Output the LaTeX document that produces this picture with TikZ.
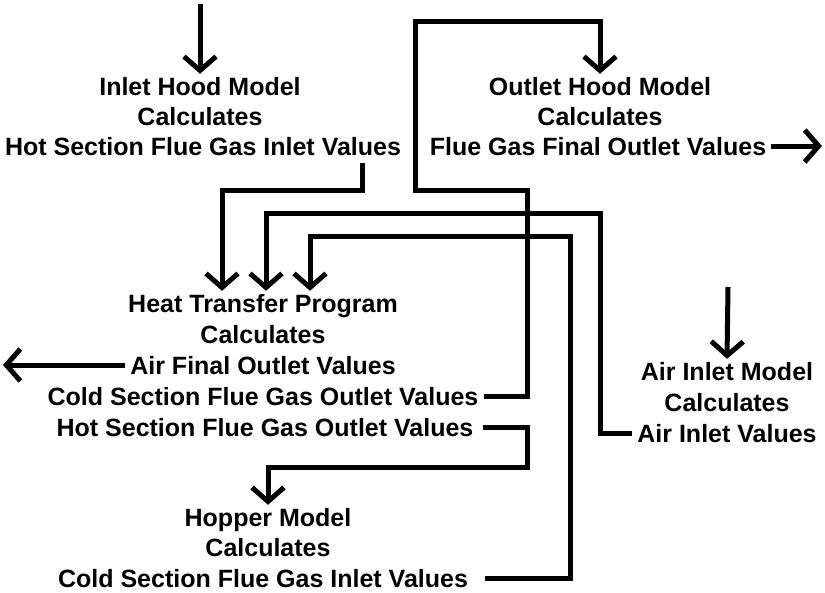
\documentclass[tikz,border=0pt]{standalone}
\usepackage{fontspec}
\setmainfont{Liberation Sans}
\usetikzlibrary{arrows.meta}
\begin{document}
\begin{tikzpicture}[x=1pt,y=-1pt,
  lbl/.style={inner xsep=5pt,inner ysep=3pt,text height=18pt,text depth=0pt,anchor=base,
    font=\bfseries\fontsize{25}{30}\selectfont},
  wire/.style={line width=5pt,line join=miter,line cap=butt},
  arr/.style={-{Straight Barb[length=14pt,width=32pt]}}]
\fill[white] (0,0) rectangle (825,592);
\useasboundingbox (0,0) rectangle (825,592);
% Inlet hood model
\node[lbl] (inlet1) at (200,95) {Inlet Hood Model};
\node[lbl] (inlet2) at (200,125) {Calculates};
\node[lbl] (inlet3) at (203,155) {Hot Section Flue Gas Inlet Values};
% Outlet hood model
\node[lbl] (outlet1) at (600,95) {Outlet Hood Model};
\node[lbl] (outlet2) at (600,125) {Calculates};
\node[lbl] (fgOut) at (598,155) {Flue Gas Final Outlet Values};
% Heat transfer program
\node[lbl] (ht1) at (263,312) {Heat Transfer Program};
\node[lbl] (ht2) at (263,343) {Calculates};
\node[lbl] (airOut) at (263,374) {Air Final Outlet Values};
\node[lbl] (coldOut) at (263,405) {Cold Section Flue Gas Outlet Values};
\node[lbl] (hotOut) at (265,436) {Hot Section Flue Gas Outlet Values};
% Air inlet model
\node[lbl] (air1) at (727,380) {Air Inlet Model};
\node[lbl] (air2) at (727,411) {Calculates};
\node[lbl] (airv) at (727,442) {Air Inlet Values};
% Hopper model
\node[lbl] (hop1) at (268,526) {Hopper Model};
\node[lbl] (hop2) at (268,556) {Calculates};
\node[lbl] (hopC) at (263,587) {Cold Section Flue Gas Inlet Values};
% coordinates
\coordinate (inSrc) at (200,4);
\coordinate (k1) at (527,190);
\coordinate (k2) at (415,21);
\coordinate (m1) at (362,163);
\coordinate (m2) at (222,190);
\coordinate (n1) at (600,213);
\coordinate (n2) at (266,213);
\coordinate (p1) at (570,236);
\coordinate (p2) at (310,236);
\coordinate (q1) at (527,467);
\coordinate (q2) at (268,467);
\coordinate (afo) at (3,0);
\coordinate (fgo) at (822,0);
\coordinate (aiSrc) at (728,287);
% connectors
\draw[wire,arr] (inSrc) -- (inlet1.north);
\draw[wire,arr] (coldOut.east) -| (k1) -| (k2) -| (outlet1.north);
\draw[wire,arr] (m1) |- (m2) -- (m2 |- ht1.north);
\draw[wire,arr] (airv.west) -| (n1) -- (n2) -- (n2 |- ht1.north);
\draw[wire,arr] ([xshift=12pt]hopC.east) -| (p1) -- (p2) -- (p2 |- ht1.north);
\draw[wire,arr] ([xshift=4pt]hotOut.east) -| (q1) -- (q2) -- (hop1.north);
\draw[wire,arr] (airOut.west) -- (airOut.west -| afo);
\draw[wire,arr] (fgOut.east) -- (fgOut.east -| fgo);
\draw[wire,arr] (aiSrc) -- (air1.north);
\end{tikzpicture}
\end{document}
